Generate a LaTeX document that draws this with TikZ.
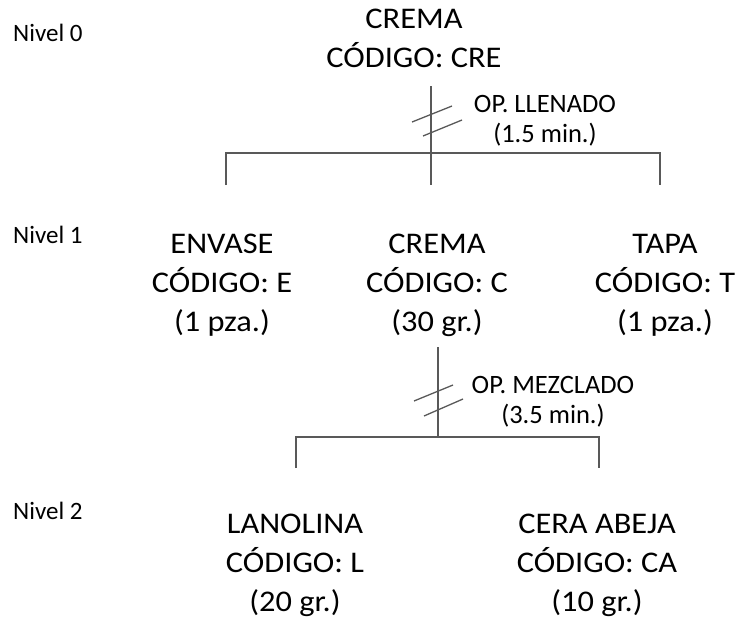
\documentclass[tikz,border=0pt]{standalone}
\usepackage{fontspec}
\setmainfont{Carlito}
\newfontfamily\widefont[FakeStretch=1.08]{Carlito}
\begin{document}
\begin{tikzpicture}[x=1pt,y=-1pt,
  item/.style={anchor=north,inner sep=0pt,align=center,font=\widefont\fontsize{30}{39}\selectfont},
  oplabel/.style={anchor=north,inner sep=0pt,align=center,font=\fontsize{26.5}{30.5}\selectfont},
  level/.style={anchor=base west,inner sep=0pt,font=\fontsize{25}{30}\selectfont},
  link/.style={draw=black!65,line width=1.8pt},
  tick/.style={draw=black!65,line width=1.3pt}]
\useasboundingbox (0,0) rectangle (742,624);
% level labels
\node[level] (n0) at (13,41) {Nivel 0};
\node[level] (n1) at (13,243) {Nivel 1};
\node[level] (n2) at (13,519) {Nivel 2};
% items
\node[item] (cre) at (414,9) {CREMA\\CÓDIGO: CRE};
\node[item] (env) at (222,234) {ENVASE\\CÓDIGO: E\\(1 pza.)};
\node[item] (cr) at (437,234) {CREMA\\CÓDIGO: C\\(30 gr.)};
\node[item] (tap) at (665,234) {TAPA\\CÓDIGO: T\\(1 pza.)};
\node[item] (lan) at (295,514) {LANOLINA\\CÓDIGO: L\\(20 gr.)};
\node[item] (cer) at (597,514) {CERA ABEJA\\CÓDIGO: CA\\(10 gr.)};
% operation labels
\node[oplabel] (op1) at (545,95) {OP. LLENADO\\(1.5 min.)};
\node[oplabel] (op2) at (553,376) {OP. MEZCLADO\\(3.5 min.)};
% first junction
\coordinate (j1t) at (431,86);
\coordinate (j1b) at (431,185);
\coordinate (b1l) at (226,153);
\coordinate (b1r) at (660,153);
\coordinate (d1l) at (226,185);
\coordinate (d1r) at (660,185);
\draw[link] (j1t) -- (j1b);
\draw[link] (d1l) -- (b1l) -- (b1r) -- (d1r);
\coordinate (s1a) at (412,122); \coordinate (s1b) at (452,106);
\coordinate (s2a) at (423,136); \coordinate (s2b) at (462,120);
\draw[tick] (s1a) -- (s1b);
\draw[tick] (s2a) -- (s2b);
% second junction
\coordinate (j2t) at (438,347);
\coordinate (j2b) at (438,437);
\coordinate (b2l) at (296,437);
\coordinate (b2r) at (599,437);
\coordinate (d2l) at (296,468);
\coordinate (d2r) at (599,468);
\draw[link] (j2t) -- (j2b);
\draw[link] (d2l) -- (b2l) -- (b2r) -- (d2r);
\coordinate (t1a) at (414,401); \coordinate (t1b) at (453,385);
\coordinate (t2a) at (424,416); \coordinate (t2b) at (463,399);
\draw[tick] (t1a) -- (t1b);
\draw[tick] (t2a) -- (t2b);
\end{tikzpicture}
\end{document}
